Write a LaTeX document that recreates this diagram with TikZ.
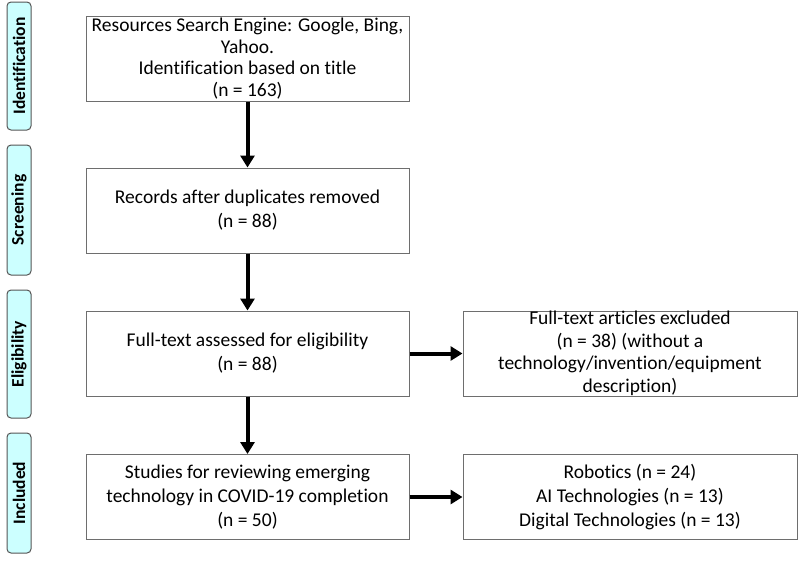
\documentclass[tikz,border=0pt]{standalone}
\usepackage{fontspec}
\setmainfont{Carlito}[Ligatures=NoCommon]
\usepackage{tikz}
\usetikzlibrary{
    positioning,           % Relative positioning
    arrows.meta            % Modern arrow tips
}
\definecolor{StageCyan}{RGB}{204,255,255}
\definecolor{StageEdge}{RGB}{85,85,85}
\definecolor{BoxEdge}{RGB}{110,110,110}
\tikzset{stage label/.style={
    rectangle,
    draw=StageEdge,
    line width=1pt,
    rounded corners=4pt,
    fill=StageCyan,
    rotate=90,
    minimum height=24pt,
    inner sep=0pt,
    font=\fontsize{17.5}{19}\selectfont\bfseries
}}
\tikzset{record box/.style={
    rectangle,
    draw=BoxEdge,
    line width=1pt,
    text centered,
    align=center,
    inner sep=0pt,
    minimum height=85pt,
    minimum width=323pt,
    font=\fontsize{19.5}{24}\selectfont
}}
\tikzset{record box wide/.style={
    record box,
    minimum width=334pt
}}
\tikzset{flow arrow/.style={
    line width=4pt,
    -{Triangle[length=12pt,width=14pt]}
}}

\begin{document}
\begin{tikzpicture}[x=1pt,y=-1pt]
    \useasboundingbox (0,0) rectangle (799,563);

    % stage labels
    \node[stage label, minimum width=128pt] (ident) at (19,66) {Identification};
    \node[stage label, minimum width=130pt] (screen) at (19,210) {Screening};
    \node[stage label, minimum width=128pt] (elig) at (19,354) {Eligibility};
    \node[stage label, minimum width=120pt] (incl) at (19,493) {Included};

    % main column
    \node[record box, font=\fontsize{19.5}{21.5}\selectfont] (search) at (247.5,58.5)
        {Resources Search Engine: Google, Bing,\\Yahoo.\\Identification based on title\\(n = 163)};
    \node[record box] (dedup) at (247.5,210.5)
        {Records after duplicates removed\\(n = 88)};
    \node[record box] (fulltext) at (247.5,353.5)
        {Full-text assessed for eligibility\\(n = 88)};
    \node[record box] (studies) at (247.5,497)
        {Studies for reviewing emerging\\technology in COVID-19 completion\\(n = 50)};

    % side column
    \node[record box wide, font=\fontsize{19.5}{22.5}\selectfont] (excluded) at (630,353.5)
        {Full-text articles excluded\\(n = 38) (without a\\technology/invention/equipment\\description)};
    \node[record box wide] (groups) at (630,497)
        {Robotics (n = 24)\\AI Technologies (n = 13)\\Digital Technologies (n = 13)};

    % arrows
    \draw[flow arrow] (search) -- (dedup);
    \draw[flow arrow] (dedup) -- (fulltext);
    \draw[flow arrow] (fulltext) -- (studies);
    \draw[flow arrow] (fulltext) -- (excluded);
    \draw[flow arrow] (studies) -- (groups);
\end{tikzpicture}
\end{document}
